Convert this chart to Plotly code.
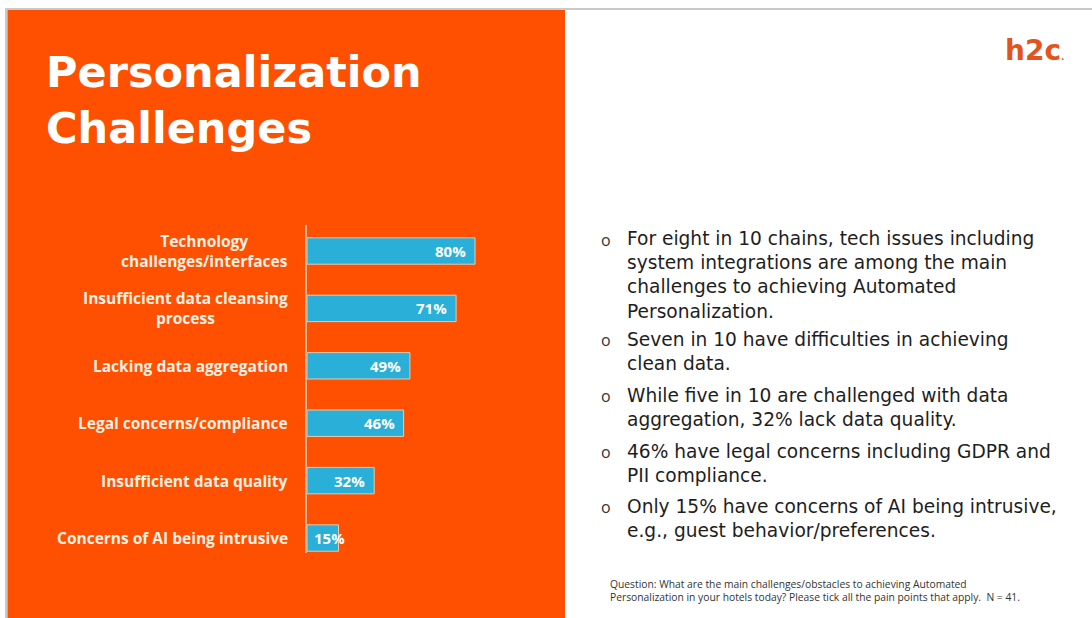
import plotly.graph_objects as go

W, H = 1092, 618

# ---------------- data ----------------
categories = [
    "Technology<br>challenges/interfaces",
    "Insufficient data cleansing<br>process",
    "Lacking data aggregation",
    "Legal concerns/compliance",
    "Insufficient data quality",
    "Concerns of AI being intrusive",
]
values = [80, 71, 49, 46, 32, 15]
value_labels = ["80%", "71%", "49%", "46%", "32%", "15%"]

title_lines = ["Personalization", "Challenges"]
logo_text = "h2c"

bullets = [
    ["For eight in 10 chains, tech issues including",
     "system integrations are among the main",
     "challenges to achieving Automated",
     "Personalization."],
    ["Seven in 10 have difficulties in achieving",
     "clean data."],
    ["While five in 10 are challenged with data",
     "aggregation, 32% lack data quality."],
    ["46% have legal concerns including GDPR and",
     "PII compliance."],
    ["Only 15% have concerns of AI being intrusive,",
     "e.g., guest behavior/preferences."],
]
footnote_lines = [
    "Question: What are the main challenges/obstacles to achieving Automated",
    "Personalization in your hotels today? Please tick all the pain points that apply.  N = 41.",
]


def px(x):
    return x / W


def py(y):
    return 1 - y / H


ORANGE = "#FE5000"
BLUE = "#2AAFD8"
CREAM = "#FFF1E4"
FONT = "Open Sans"

fig = go.Figure(
    go.Bar(
        x=values,
        y=categories,
        orientation="h",
        width=0.46,
        marker=dict(color=BLUE, line=dict(color="#F0C6A4", width=1)),
        hoverinfo="skip",
    )
)

shapes = [
    dict(type="rect", xref="paper", yref="paper", x0=px(5), x1=1, y0=py(10), y1=py(8),
         fillcolor="#C9C9C9", line=dict(width=0), layer="below"),
    dict(type="rect", xref="paper", yref="paper", x0=px(5), x1=px(7.5), y0=0, y1=py(8),
         fillcolor="#C9C9C9", line=dict(width=0), layer="below"),
    dict(type="rect", xref="paper", yref="paper", x0=px(7.5), x1=px(565), y0=0, y1=py(10),
         fillcolor=ORANGE, line=dict(width=0), layer="below"),
]

ann = []
# title (one block, two lines)
ann.append(dict(text="<br>".join(title_lines), xref="paper", yref="paper", x=px(44), y=py(100),
                xanchor="left", yanchor="middle", align="left", showarrow=False,
                font=dict(family="DejaVu Sans", size=43, color="white", weight=700)))
# logo
ann.append(dict(text=logo_text + "<span style='font-size:9px'>.</span>", xref="paper", yref="paper",
                x=px(1003), y=py(50), xanchor="left", yanchor="middle", showarrow=False,
                font=dict(family="DejaVu Sans", size=28, color="#E4531C", weight=700)))

# category labels (right-aligned block, lines centred)
for cat in categories:
    ann.append(dict(text=cat, xref="paper", yref="y", x=px(290), y=cat,
                    xanchor="right", yanchor="middle", align="center", showarrow=False,
                    font=dict(family=FONT, size=15.5, color=CREAM, weight=700)))

# value labels
for cat, v, lab in zip(categories, values, value_labels):
    if v >= 20:
        ann.append(dict(text=lab, xref="x", yref="y", x=v, y=cat, xanchor="right",
                        yanchor="middle", xshift=-7, showarrow=False,
                        font=dict(family=FONT, size=15, color="white", weight=700)))
    else:
        ann.append(dict(text=lab, xref="x", yref="y", x=0, y=cat, xanchor="left",
                        yanchor="middle", xshift=5, showarrow=False,
                        font=dict(family=FONT, size=15, color="white", weight=700)))

# bullets
BSIZE = 18.6
spacing = 1.3 * BSIZE
bullet_tops = [239, 339, 395, 451, 506]
for top, blines in zip(bullet_tops, bullets):
    n = len(blines)
    ann.append(dict(text="o", xref="paper", yref="paper", x=px(606), y=py(top + 1),
                    xanchor="center", yanchor="middle", showarrow=False,
                    font=dict(family=FONT, size=16, color="#333333")))
    ann.append(dict(text="<br>".join(blines), xref="paper", yref="paper", x=px(625),
                    y=py(top + (n - 1) * spacing / 2), xanchor="left", yanchor="middle",
                    align="left", showarrow=False,
                    font=dict(family="DejaVu Sans", size=BSIZE, color="#1E1E1E")))

# footnote
ann.append(dict(text="<br>".join(footnote_lines), xref="paper", yref="paper", x=px(608),
                y=py(590.5), xanchor="left", yanchor="middle", align="left", showarrow=False,
                font=dict(family=FONT, size=10.3, color="#333333")))

fig.update_layout(
    width=W, height=H,
    margin=dict(l=0, r=0, t=0, b=0),
    paper_bgcolor="white",
    plot_bgcolor="rgba(0,0,0,0)",
    showlegend=False,
    shapes=shapes,
    annotations=ann,
    xaxis=dict(domain=[px(307), px(517)], range=[0, 100], visible=False, fixedrange=True),
    yaxis=dict(domain=[py(553), py(225)], range=[5.261, -0.453], autorange=False,
               type="category", categoryorder="array", categoryarray=categories,
               showline=True, linecolor="#EDB690", linewidth=1.5,
               showticklabels=False, ticks="", showgrid=False, zeroline=False),
)

fig.write_html("out.html")
